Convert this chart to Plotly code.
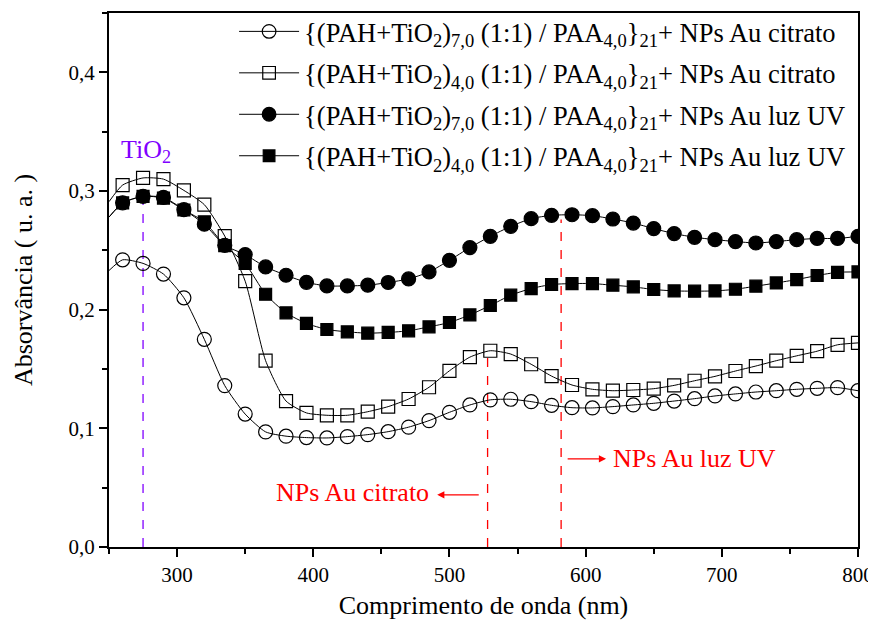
import plotly.graph_objects as go

# ---------------- data ----------------
wavelength = [250, 260, 275, 290, 305, 320, 335, 350, 365, 380, 395, 410, 425, 440, 455,
              470, 485, 500, 515, 530, 545, 560, 575, 590, 605, 620, 635, 650, 665,
              680, 695, 710, 725, 740, 755, 770, 785, 800]

citrato_70 = [0.233, 0.242, 0.239, 0.230, 0.210, 0.175, 0.136, 0.112, 0.097, 0.0934, 0.0922,
              0.0919, 0.0930, 0.0947, 0.0972, 0.101, 0.1065, 0.1135, 0.1197, 0.124, 0.1245,
              0.1225, 0.1194, 0.1174, 0.1172, 0.1183, 0.1197, 0.1211, 0.123, 0.125, 0.1273,
              0.129, 0.1306, 0.1317, 0.1329, 0.1337, 0.1343, 0.1317]

citrato_40 = [0.291, 0.305, 0.311, 0.310, 0.3005, 0.2885, 0.262, 0.224, 0.157, 0.123, 0.113,
              0.111, 0.111, 0.114, 0.1183, 0.1247, 0.1346, 0.1485, 0.160, 0.1654, 0.1626,
              0.154, 0.144, 0.1365, 0.1329, 0.1317, 0.1323, 0.1334, 0.1362, 0.1401, 0.1438,
              0.1483, 0.1525, 0.157, 0.1611, 0.165, 0.1704, 0.172]

uv_70 = [0.278, 0.290, 0.2955, 0.2946, 0.2843, 0.272, 0.2542, 0.2464, 0.236, 0.229, 0.223,
         0.220, 0.220, 0.2206, 0.2229, 0.2259, 0.2318, 0.2416, 0.2523, 0.2618, 0.2702,
         0.2767, 0.2795, 0.280, 0.2792, 0.2764, 0.273, 0.2683, 0.2641, 0.261, 0.259,
         0.2574, 0.2562, 0.2574, 0.259, 0.260, 0.260, 0.2618]

uv_40 = [0.278, 0.290, 0.2955, 0.294, 0.284, 0.274, 0.254, 0.2389, 0.213, 0.1973, 0.1884,
         0.1833, 0.1813, 0.1802, 0.1808, 0.1822, 0.1855, 0.1892, 0.1956, 0.2035, 0.2122,
         0.2178, 0.2212, 0.222, 0.222, 0.2206, 0.2192, 0.217, 0.2158, 0.2156, 0.2158,
         0.2172, 0.2198, 0.2225, 0.2254, 0.2288, 0.2315, 0.2318]

series_names = [
    "{(PAH+TiO<sub>2</sub>)<sub>7,0</sub> (1:1) / PAA<sub>4,0</sub>}<sub>21</sub>+ NPs Au citrato",
    "{(PAH+TiO<sub>2</sub>)<sub>4,0</sub> (1:1) / PAA<sub>4,0</sub>}<sub>21</sub>+ NPs Au citrato",
    "{(PAH+TiO<sub>2</sub>)<sub>7,0</sub> (1:1) / PAA<sub>4,0</sub>}<sub>21</sub>+ NPs Au luz UV",
    "{(PAH+TiO<sub>2</sub>)<sub>4,0</sub> (1:1) / PAA<sub>4,0</sub>}<sub>21</sub>+ NPs Au luz UV",
]

# reference lines: (wavelength, top absorbance)
tio2_line = (275, 0.295)
citrato_line = (528, 0.166)
uv_line = (582, 0.276)

# ---------------- figure ----------------
FONT = "Times New Roman, Liberation Serif, Tinos, serif"
series = [citrato_70, citrato_40, uv_70, uv_40]
symbols = ["circle-open", "square-open", "circle", "square"]
sizes = [14, 13, 14, 12]

fig = go.Figure()
for i, (vals, sym, sz, name) in enumerate(zip(series, symbols, sizes, series_names)):
    msize = [0] + [sz] * (len(wavelength) - 1)
    fig.add_trace(go.Scatter(
        x=wavelength, y=vals, name=name, mode="lines+markers",
        line=dict(color="black", width=1, shape="spline", smoothing=0.6),
        marker=dict(symbol=sym, size=msize, color="black", opacity=1,
                    line=dict(color="black", width=1.2)),
        legendgroup=f"g{i}",
    ))

shapes = []
for (xv, ytop), col in [(tio2_line, "#8000ff"), (citrato_line, "#ff0000"), (uv_line, "#ff0000")]:
    shapes.append(dict(type="line", xref="x", yref="y", x0=xv, x1=xv, y0=0, y1=ytop,
                       line=dict(color=col, width=1.3, dash="dash"), layer="below"))

annotations = [
    dict(x=tio2_line[0] + 2, y=0.334, xref="x", yref="y", text="TiO<sub>2</sub>",
         showarrow=False, font=dict(family=FONT, size=26, color="#8000ff")),
    dict(x=429, y=0.046, xref="x", yref="y", text="NPs Au citrato", showarrow=False,
         font=dict(family=FONT, size=26, color="#ff0000")),
    dict(x=491, y=0.044, ax=522.6, ay=0.044, xref="x", yref="y", axref="x", ayref="y",
         text="", showarrow=True, arrowhead=2, arrowsize=1.2, arrowwidth=1.2, arrowcolor="#ff0000"),
    dict(x=680, y=0.075, xref="x", yref="y", text="NPs Au luz UV", showarrow=False,
         font=dict(family=FONT, size=26, color="#ff0000")),
    dict(x=615, y=0.0743, ax=585.7, ay=0.0743, xref="x", yref="y", axref="x", ayref="y",
         text="", showarrow=True, arrowhead=2, arrowsize=1.2, arrowwidth=1.2, arrowcolor="#ff0000"),
]

fig.update_layout(
    width=868, height=615,
    margin=dict(l=101, r=18, t=5, b=76, autoexpand=False),
    paper_bgcolor="white", plot_bgcolor="white",
    separators=",.",
    font=dict(family=FONT, size=21, color="black"),
    showlegend=True,
    legend=dict(x=0.167, y=1.01, xanchor="left", yanchor="top",
                bgcolor="rgba(0,0,0,0)", borderwidth=0,
                font=dict(family=FONT, size=26.5, color="black"),
                itemwidth=60, tracegroupgap=4, traceorder="grouped"),
    shapes=shapes, annotations=annotations,
    xaxis=dict(range=[250, 800], tick0=300, dtick=100, showgrid=False, zeroline=False,
               showline=True, linecolor="black", linewidth=2, mirror=True,
               ticks="outside", ticklen=8, tickwidth=2, tickcolor="black",
               minor=dict(ticks="outside", ticklen=5, tickwidth=2, dtick=50, tick0=250,
                          tickcolor="black", showgrid=False),
               title=dict(text="Comprimento de onda (nm)", font=dict(size=26), standoff=10),
               tickfont=dict(size=21), automargin=False),
    yaxis=dict(range=[0, 0.45], tick0=0, dtick=0.1, tickformat=".1f", showgrid=False,
               zeroline=False, showline=True, linecolor="black", linewidth=2, mirror=True,
               ticks="outside", ticklen=8, tickwidth=2, tickcolor="black",
               minor=dict(ticks="outside", ticklen=5, tickwidth=2, dtick=0.05, tick0=0,
                          tickcolor="black", showgrid=False),
               title=dict(text="Absorvância ( u. a. )", font=dict(size=26), standoff=28),
               tickfont=dict(size=21), automargin=False),
)

fig.write_html("out.html")
